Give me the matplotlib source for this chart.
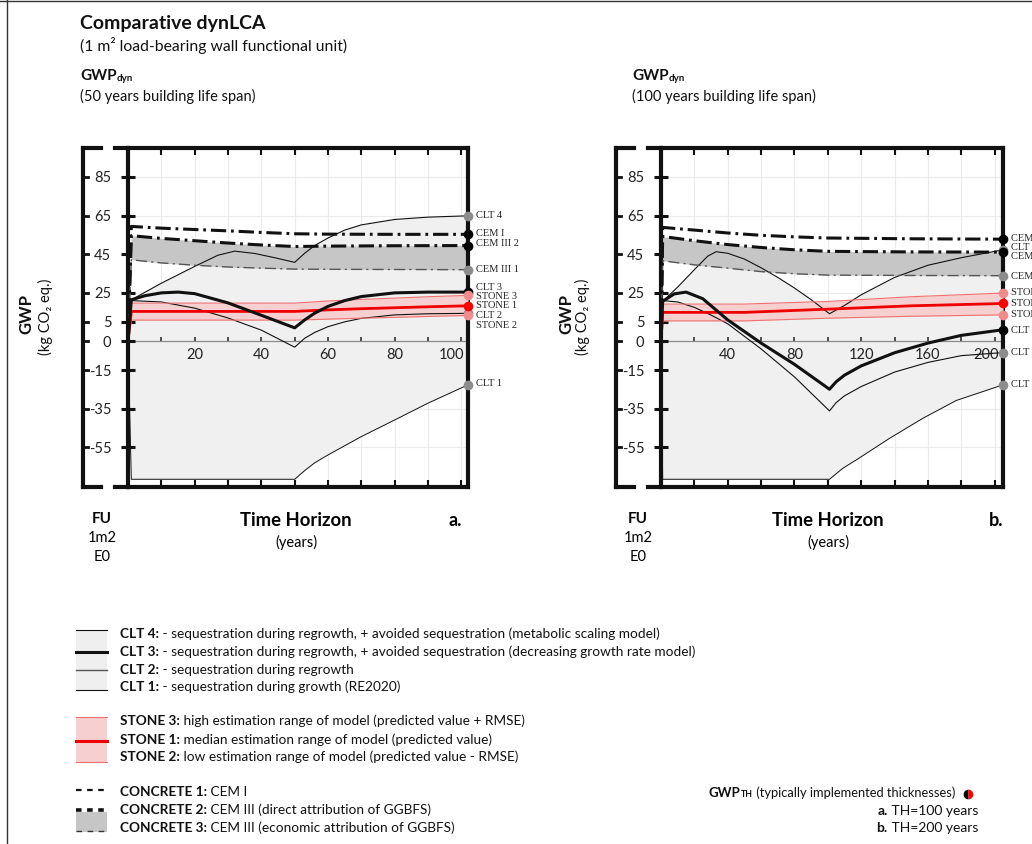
import numpy as np
import matplotlib.pyplot as plt
from matplotlib import font_manager

W, H = 1032, 844


def pick(*names):
    for n in names:
        try:
            font_manager.findfont(n, fallback_to_default=False)
            return n
        except ValueError:
            pass
    return 'DejaVu Sans'


SANS = pick('Lato', 'Open Sans')
NARROW = pick('Liberation Sans Narrow', 'Lato')
SERIF = pick('Liberation Serif', 'DejaVu Serif')
plt.rcParams['font.family'] = [SANS, 'DejaVu Sans']
plt.rcParams['lines.scale_dashes'] = False

# ---- data, panel a (50 years life span, TH = 100 years) ----
a_cem_t = [0, 1, 10, 20, 30, 40, 50, 60, 80, 102]
a_cem1 = [0, 59.4, 58.5, 57.8, 57.1, 56.3, 55.6, 55.4, 55.3, 55.3]
a_cem3_direct = [0, 54.6, 53.2, 52.0, 50.8, 49.8, 49.0, 49.2, 49.4, 49.5]
a_cem3_econ = [0, 42.1, 40.5, 39.3, 38.4, 37.8, 37.3, 37.2, 37.1, 37.0]

a_stone_t = [0, 1, 50, 60, 70, 80, 90, 102]
a_stone1 = [0, 15.4, 15.4, 16.2, 16.8, 17.3, 17.8, 18.3]
a_stone3 = [0, 19.7, 19.7, 20.8, 21.6, 22.3, 23.0, 23.7]
a_stone2 = [0, 10.9, 10.9, 11.4, 11.9, 12.3, 12.8, 13.3]

a_clt4_t = [0, 1, 10, 20, 27, 32, 38, 44, 50, 53, 56, 60, 65, 70, 80, 90, 102]
a_clt4 = [0, 21.4, 30.0, 38.7, 44.5, 46.6, 45.4, 43.2, 40.8, 45.5, 49.5, 53.4,
          57.5, 60.2, 63.0, 64.2, 64.9]
a_clt3_t = [0, 1, 5, 10, 15, 20, 30, 40, 50, 53, 56, 60, 65, 70, 80, 90, 102]
a_clt3 = [0, 21.4, 23.5, 25.0, 25.4, 24.6, 19.8, 13.4, 6.9, 11.0, 14.5, 18.0,
          21.0, 23.1, 25.0, 25.4, 25.4]
a_clt2_t = [0, 1, 10, 20, 30, 40, 50, 53, 56, 60, 65, 70, 80, 90, 102]
a_clt2 = [0, 21.0, 20.3, 17.1, 12.0, 5.7, -3.1, 1.5, 4.5, 7.5, 10.0, 11.8,
          13.6, 14.2, 14.4]
a_clt1_t = [0, 1, 50, 53, 56, 60, 70, 80, 90, 102]
a_clt1 = [0, -71.5, -71.5, -67.0, -63.0, -58.9, -49.4, -40.8, -32.1, -22.6]

# ---- data, panel b (100 years life span, TH = 200 years) ----
b_cem_t = [0, 1, 20, 40, 60, 80, 100, 150, 205]
b_cem1 = [0, 58.9, 57.5, 56.0, 54.8, 54.0, 53.4, 53.0, 52.8]
b_cem3_direct = [0, 54.2, 52.0, 50.0, 48.5, 47.3, 46.5, 46.2, 46.1]
b_cem3_econ = [0, 41.6, 39.5, 37.8, 36.0, 34.9, 34.2, 34.0, 33.9]

b_stone_t = [0, 1, 50, 101, 150, 205]
b_stone1 = [0, 14.9, 14.9, 16.6, 18.3, 19.5]
b_stone3 = [0, 19.2, 19.2, 20.6, 23.0, 24.9]
b_stone2 = [0, 10.5, 10.5, 11.9, 12.9, 13.6]

b_clt4_t = [0, 1, 10, 20, 28, 33, 40, 50, 60, 70, 80, 90, 101, 110, 120, 140,
            160, 180, 205]
b_clt4 = [0, 20.6, 28.0, 37.0, 44.0, 46.3, 45.5, 42.5, 38.0, 33.0, 27.5, 21.5,
          14.2, 18.5, 24.0, 33.0, 39.3, 43.2, 47.3]
b_clt3_t = [0, 1, 8, 15, 25, 40, 60, 80, 101, 105, 110, 120, 140, 160, 180, 205]
b_clt3 = [0, 20.6, 24.5, 25.4, 22.0, 11.0, -1.0, -12.0, -24.9, -21.0, -17.6,
          -12.8, -6.0, -1.0, 3.0, 5.9]
b_clt2_t = [0, 1, 10, 20, 30, 40, 60, 80, 101, 105, 110, 120, 140, 160, 180, 205]
b_clt2 = [0, 21.0, 20.3, 17.5, 13.5, 9.0, -4.0, -18.5, -36.1, -31.8, -28.3,
          -23.5, -16.0, -11.0, -7.5, -5.9]
b_clt1_t = [0, 1, 101, 109, 117, 137, 157, 177, 205]
b_clt1 = [0, -71.5, -71.5, -65.8, -61.5, -50.3, -39.9, -30.7, -22.6]

# axis ticks
y_ticks = [85, 65, 45, 25, 10, 0, -15, -35, -55]
y_tick_labels = ['85', '65', '45', '25', '5', '0', '-15', '-35', '-55']
a_minor = list(range(10, 101, 10))
a_major = [20, 40, 60, 80, 100]
b_minor = list(range(20, 201, 20))
b_major = [40, 80, 120, 160, 200]

# end labels (name, label y position)
a_end_labels = [('CLT 4', 65.2), ('CEM I', 55.6), ('CEM III 2', 50.4),
                ('CEM III 1', 36.9), ('CLT 3', 28.0), ('STONE 3', 23.1),
                ('STONE 1', 18.3), ('CLT 2', 13.5), ('STONE 2', 8.3),
                ('CLT 1', -22.1)]
b_end_labels = [('CEM I', 53.2), ('CLT 4', 48.4), ('CEM III 2', 43.7),
                ('CEM III 1', 33.7), ('STONE 3', 25.0), ('STONE 1', 19.5),
                ('STONE 2', 13.9), ('CLT 3', 5.5), ('CLT 2', -6.0),
                ('CLT 1', -22.3)]

GREY_M = '#8c8c8c'
PINK_M = '#f28b8b'
RED = '#ee0000'
INK = '#111111'

fig = plt.figure(figsize=(W / 100, H / 100), dpi=100)
bg = fig.add_axes([0, 0, 1, 1])
bg.set_xlim(0, W)
bg.set_ylim(H, 0)
bg.axis('off')

# frame
bg.plot([7, 7], [0, H], color='#333333', lw=1)
bg.plot([0, W], [1, 1], color='#333333', lw=1)


def rich(x, y, parts, ha='left', family=None):
    # bold head + regular tail, glued one after the other
    fam = [family or SANS, 'DejaVu Sans']
    seq = parts if ha == 'left' else parts[::-1]
    prev = None
    for t, bold, size in seq:
        kw = dict(fontsize=size, fontweight='bold' if bold else 'normal',
                  family=fam, color=INK)
        if prev is None:
            prev = bg.text(x, y, t, ha=ha, va='center', **kw)
        else:
            xy = (1, 0) if ha == 'left' else (0, 0)
            prev = bg.annotate(t, xy=xy, xycoords=prev, ha=ha, va='bottom', **kw)


def build(cem_t, cem1, cem3d, cem3e, st_t, s1, s3, s2, c4t, c4, c3t, c3, c2t, c2,
          c1t, c1):
    dd = (11, 3.5, 2, 3.5)
    series = [
        (c1t, c1, dict(color=INK, lw=0.7, zorder=4)),
        (c2t, c2, dict(color=INK, lw=0.8, zorder=4)),
        (c4t, c4, dict(color=INK, lw=0.8, zorder=4)),
        (st_t, s3, dict(color='#f07070', lw=0.8, zorder=4)),
        (st_t, s2, dict(color='#f07070', lw=0.8, zorder=4)),
        (st_t, s1, dict(color=RED, lw=2.0, zorder=5)),
        (cem_t, cem3e, dict(color='#555555', lw=1.0, dashes=(8, 3, 1.5, 3), zorder=5)),
        (cem_t, cem3d, dict(color=INK, lw=2.2, dashes=dd, zorder=6)),
        (cem_t, cem1, dict(color=INK, lw=2.2, dashes=dd, zorder=6)),
        (c3t, c3, dict(color=INK, lw=2.2, zorder=6)),
    ]
    clts = [(c4t, c4), (c3t, c3), (c2t, c2), (c1t, c1)]
    env_t = np.union1d(np.union1d(c4t, c1t), np.union1d(c3t, c2t))
    hi = np.max([np.interp(env_t, t, v) for t, v in clts], axis=0)
    lo = np.min([np.interp(env_t, t, v) for t, v in clts], axis=0)
    fills = [
        (env_t, hi, env_t, lo, '#f0f0f0', 1),
        (cem_t, cem3d, cem_t, cem3e, '#c6c6c6', 2),
        (st_t, s3, st_t, s2, '#f6d0d0', 3),
    ]
    ends = [
        (c4t, c4, GREY_M), (cem_t, cem1, '#000000'), (cem_t, cem3d, '#000000'),
        (cem_t, cem3e, GREY_M), (c3t, c3, '#000000'), (st_t, s3, PINK_M),
        (c2t, c2, GREY_M), (st_t, s2, PINK_M), (st_t, s1, '#ff0000'),
        (c1t, c1, GREY_M),
    ]
    return series, fills, ends


def panel(left, right, xmax, minor, major, data, end_labels):
    top, bottom = 148, 487
    ax = fig.add_axes([left / W, 1 - bottom / H, (right - left) / W, (bottom - top) / H])
    ax.set_xlim(0, xmax)
    ax.set_ylim(-75.5, 100)
    wpx = right - left
    series, fills, ends = build(*data)

    # faint grid
    for v in minor:
        ax.axvline(v, color='#ebebeb', lw=0.8, zorder=0)
    for v in y_ticks:
        ax.axhline(v, color='#ebebeb', lw=0.8, zorder=0)

    for (t1, v1, t2, v2, col, z) in fills:
        grid = np.union1d(t1, t2)
        ax.fill_between(grid, np.interp(grid, t1, v1), np.interp(grid, t2, v2),
                        color=col, lw=0, zorder=z)

    # zero line acting as the time axis
    ax.axhline(0, color='#8a8a8a', lw=0.9, zorder=1.5)
    ax.vlines(minor, 0, 2.2, color='#333333', lw=1.2, zorder=1.5)

    for t, v, kw in series:
        ax.plot(t, v, solid_capstyle='butt', **kw)

    for t, v, mc in ends:
        ax.plot([t[-1]], [v[-1]], 'o', ms=7, color=mc, mec='none', clip_on=False,
                zorder=10)

    for name, ly in end_labels:
        ax.annotate(name, xy=(xmax, ly), xytext=(6, 0), textcoords='offset points',
                    ha='left', va='center', fontsize=7.5, family=[SERIF],
                    color='#222222', annotation_clip=False)

    for sp in ax.spines.values():
        sp.set_linewidth(3)
        sp.set_color(INK)
    ax.set_xticks(minor)
    ax.tick_params(axis='x', direction='in', top=True, bottom=True, length=5,
                   width=1.5, labelbottom=False, color=INK)
    ax.set_yticks(y_ticks)
    ax.set_yticklabels(y_tick_labels)
    ax.tick_params(axis='y', direction='inout', length=10, width=2.2, pad=7,
                   labelsize=10.5, color=INK, labelcolor='#222222')
    for i, v in enumerate(major):
        last = i == len(major) - 1
        ax.annotate(str(v), xy=(xmax if last else v, 0),
                    xytext=(-3 if last else 0, -5), textcoords='offset points',
                    ha='right' if last else 'center', va='top', fontsize=10.5,
                    color='#222222')

    # left bracket and border extensions
    tr = ax.get_yaxis_transform()
    bx, sx, ex = -45 / wpx, -27 / wpx, -13 / wpx
    ax.plot([bx, bx], [-75.5, 100], color=INK, lw=3, transform=tr,
            clip_on=False, solid_capstyle='projecting')
    for yy in (-75.5, 100):
        ax.plot([bx, sx], [yy, yy], color=INK, lw=3, transform=tr,
                clip_on=False, solid_capstyle='projecting')
        ax.plot([ex, 0], [yy, yy], color=INK, lw=3, transform=tr,
                clip_on=False, solid_capstyle='projecting')
    for yy in y_ticks:
        ax.plot([bx, bx + 5 / wpx], [yy, yy], color=INK, lw=2, transform=tr,
                clip_on=False)
    return ax


panel(128, 468, 102, a_minor, a_major,
      (a_cem_t, a_cem1, a_cem3_direct, a_cem3_econ, a_stone_t, a_stone1, a_stone3,
       a_stone2, a_clt4_t, a_clt4, a_clt3_t, a_clt3, a_clt2_t, a_clt2, a_clt1_t,
       a_clt1), a_end_labels)
panel(661, 1003, 205, b_minor, b_major,
      (b_cem_t, b_cem1, b_cem3_direct, b_cem3_econ, b_stone_t, b_stone1, b_stone3,
       b_stone2, b_clt4_t, b_clt4, b_clt3_t, b_clt3, b_clt2_t, b_clt2, b_clt1_t,
       b_clt1), b_end_labels)

# ---- titles ----
bg.text(80, 24, 'Comparative dynLCA', fontsize=14, fontweight='bold', va='center',
        color=INK)
bg.text(80, 46, '(1 m² load-bearing wall functional unit)', fontsize=11.3,
        va='center', color=INK)
for x0, span in [(80, '(50 years building life span)'),
                 (632, '(100 years building life span)')]:
    rich(x0, 76, [('GWP', True, 11), ('dyn', True, 7)])
    bg.text(x0, 96, span, fontsize=10.5, va='center', color=INK)

for gx, kx in [(26, 45), (566, 582)]:
    bg.text(gx, 314, 'GWP', fontsize=12, fontweight='bold', rotation=90,
            ha='center', va='center', color=INK)
    bg.text(kx, 317, '(kg CO₂ eq.)', fontsize=10.5, rotation=90, ha='center',
            va='center', color=INK, family=[SANS, 'DejaVu Sans'])

for fx, tx, lx, letter in [(102, 296, 455, 'a.'), (638, 828, 996, 'b.')]:
    bg.text(fx, 519, 'FU', fontsize=11, fontweight='bold', ha='center', va='center')
    bg.text(fx, 538, '1m2', fontsize=10.5, ha='center', va='center')
    bg.text(fx, 557, 'E0', fontsize=10.5, ha='center', va='center')
    bg.text(tx, 521, 'Time Horizon', fontsize=13.3, fontweight='bold', ha='center',
            va='center')
    bg.text(tx, 542, '(years)', fontsize=10.5, ha='center', va='center')
    bg.text(lx, 521, letter, fontsize=13, fontweight='bold', ha='center',
            va='center')

# ---- legend ----
LS = 10.5 if NARROW != SANS else 9.8
lx0, lx1, tx0 = 76, 107, 120
bg.fill_between([lx0, lx1], 630, 691, color='#efefef', lw=0)
bg.plot([lx0, lx1], [630, 630], color=INK, lw=0.8)
bg.plot([lx0, lx1], [652, 652], color=INK, lw=2.2)
bg.plot([lx0, lx1], [670, 670], color='#555555', lw=1.0)
bg.plot([lx0, lx1], [690, 690], color=INK, lw=0.8)
bg.fill_between([lx0, lx1], 717, 762, color='#f6d0d0', lw=0)
bg.plot([lx0, lx1], [717, 717], color='#f07070', lw=0.8)
bg.plot([lx0, lx1], [741, 741], color=RED, lw=2.2)
bg.plot([lx0, lx1], [762, 762], color='#f07070', lw=0.8)
bg.plot([lx0, lx1], [790, 790], color=INK, lw=1.6, dashes=(4, 4))
bg.fill_between([lx0, lx1], 812, 832, color='#c6c6c6', lw=0)
bg.plot([lx0, lx1], [810, 810], color=INK, lw=2.6, dashes=(4, 4))
bg.plot([lx0, lx1], [831, 831], color='#333333', lw=1.0, dashes=(4, 4))

legend_rows = [
    (634, 'CLT 4:', ' - sequestration during regrowth, + avoided sequestration (metabolic scaling model)'),
    (652, 'CLT 3:', ' - sequestration during regrowth, + avoided sequestration (decreasing growth rate model)'),
    (670, 'CLT 2:', ' - sequestration during regrowth'),
    (687, 'CLT 1:', ' - sequestration during growth (RE2020)'),
    (721, 'STONE 3:', ' high estimation range of model (predicted value + RMSE)'),
    (740, 'STONE 1:', ' median estimation range of model (predicted value)'),
    (757, 'STONE 2:', ' low estimation range of model (predicted value - RMSE)'),
    (792, 'CONCRETE 1:', ' CEM I'),
    (810, 'CONCRETE 2:', ' CEM III (direct attribution of GGBFS)'),
    (828, 'CONCRETE 3:', ' CEM III (economic attribution of GGBFS)'),
]
for y, head, rest in legend_rows:
    rich(tx0, y, [(head, True, LS), (rest, False, LS)], family=NARROW)

rich(955, 793, [('GWP', True, 9.5), ('TH', True, 6.3),
                (' (typically implemented thicknesses)', False, 9.3)], ha='right')
bg.plot([968], [794], 'o', ms=7, fillstyle='left', color='#000000',
        markerfacecoloralt='#ff0000', mec='none')
rich(978, 811, [('a.', True, 10), (' TH=100 years', False, 10)], ha='right')
rich(978, 828, [('b.', True, 10), (' TH=200 years', False, 10)], ha='right')

fig.savefig('out.png', dpi=100)
